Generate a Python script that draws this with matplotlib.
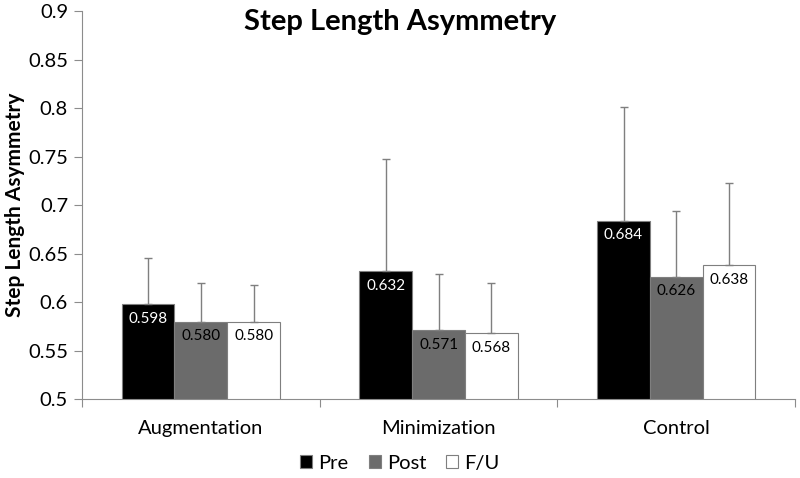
import numpy as np
import matplotlib
matplotlib.use("Agg")
import matplotlib.pyplot as plt

plt.rcParams['font.family'] = ['Lato', 'DejaVu Sans']

groups = ['Augmentation', 'Minimization', 'Control']
series = ['Pre', 'Post', 'F/U']
pre = [0.598, 0.632, 0.684]
post = [0.580, 0.571, 0.626]
fu = [0.580, 0.568, 0.638]
pre_err = [0.047, 0.115, 0.117]
post_err = [0.040, 0.058, 0.068]
fu_err = [0.038, 0.052, 0.085]

values = [pre, post, fu]
errors = [pre_err, post_err, fu_err]
colors = ['#000000', '#6b6b6b', '#ffffff']
text_colors = ['white', 'black', 'black']

fig = plt.figure(figsize=(8, 4.78), dpi=100)
ax = fig.add_axes([0.1025, 0.165, 0.8915, 0.812])

x = np.arange(len(groups))
w = 0.222
for i in range(3):
    xs = x + (i - 1) * w
    ax.bar(xs, values[i], w, bottom=0, color=colors[i], edgecolor='#7f7f7f',
           linewidth=0.8, label=series[i], zorder=2)
    ax.errorbar(xs, values[i], yerr=[np.zeros(3), errors[i]], fmt='none',
                ecolor='#7f7f7f', elinewidth=1, capsize=3, capthick=1, zorder=3)
    for xx, v in zip(xs, values[i]):
        ax.text(xx, v - 0.015, f'{v:.3f}', ha='center', va='center',
                fontsize=11, color=text_colors[i], zorder=4)

ax.set_ylim(0.5, 0.9)
ax.set_xlim(-0.5, 2.5)
ax.set_yticks(np.arange(0.5, 0.91, 0.05))
ax.set_yticklabels(['0.5', '0.55', '0.6', '0.65', '0.7', '0.75', '0.8', '0.85', '0.9'])
ax.set_xticks([-0.5, 0.5, 1.5, 2.5])
ax.set_xticklabels([])
ax.set_xticks(x, minor=True)
ax.set_xticklabels(groups, minor=True, fontsize=14.5)
ax.tick_params(axis='x', which='minor', length=0, pad=15)
ax.tick_params(axis='x', which='major', length=6, color='#8c8c8c')
ax.tick_params(axis='y', length=6, color='#8c8c8c', labelsize=14.5, pad=4)

for s in ['top', 'right']:
    ax.spines[s].set_visible(False)
for s in ['left', 'bottom']:
    ax.spines[s].set_color('#8c8c8c')

fig.text(15 / 800, 1 - 205 / 478, 'Step Length Asymmetry', rotation=90,
         ha='center', va='center', fontsize=15, fontweight='bold')
fig.text(0.5, 0.955, 'Step Length Asymmetry', ha='center', va='center',
         fontsize=21, fontweight='bold')

fig.legend(loc='lower center', bbox_to_anchor=(0.5, -0.025), ncol=3, frameon=False,
           fontsize=14.5, handlelength=0.6, handleheight=0.6, handletextpad=0.3,
           columnspacing=1.0)

fig.savefig('out.png', dpi=100)
